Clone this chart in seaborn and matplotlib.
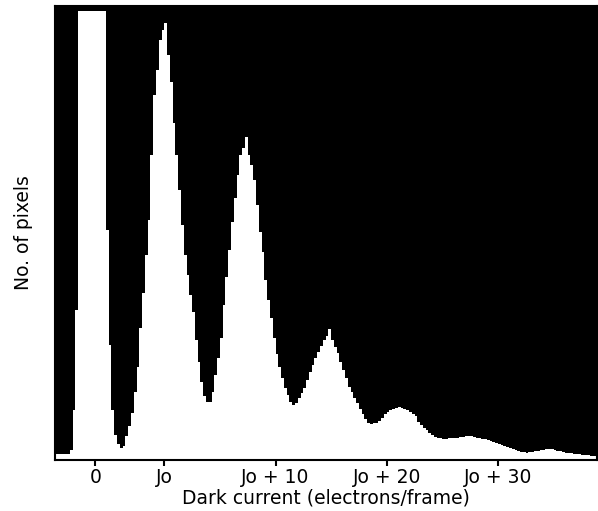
import numpy as np
import pandas as pd
import matplotlib
matplotlib.use("Agg")
import matplotlib.pyplot as plt
import seaborn as sns

# Histogram of per-pixel dark current; x in electrons/frame relative to Jo,
# bins 0.25 e-/frame wide starting at -10.
bin_start = -10.0
bin_width = 0.25

# pixel counts per bin (arbitrary units; the zero spike runs off scale)
counts_floor = [6, 6, 6, 6, 6, 6, 10, 50, 150]
counts_zero = [449, 449, 449, 449, 449, 449, 449, 449, 449, 449,
               230, 115, 50, 25, 16, 12, 14]
counts_jo = [24, 34, 47, 68, 93, 132, 167, 205, 240, 305, 365, 390, 420,
             430, 437, 405, 378, 337, 305, 270, 235, 205, 185, 165, 148,
             120, 98, 78, 64, 58]
counts_jo7 = [58, 68, 85, 102, 122, 155, 183, 210, 238, 262, 285, 305, 312,
              323, 305, 295, 280, 255, 228, 208, 180, 160, 142, 122, 106,
              93, 82, 72, 65, 58, 55]
counts_jo13 = [57, 62, 67, 72, 80, 88, 95, 102, 108, 114, 120, 124, 131,
               120, 113, 107, 98, 90, 82, 73, 68, 62, 57, 51, 46, 41, 37,
               36, 37, 37]
counts_jo20 = [39, 42, 46, 48, 50, 51, 52, 53, 52, 51, 50, 48, 46, 44, 38,
               35, 32, 30, 27, 25, 23]
counts_tail = [22, 22, 21, 21, 22, 22, 22, 22, 23, 23, 24, 24, 24, 23, 22,
               22, 21, 21, 20, 19, 18, 17, 16, 15, 14, 13, 12, 11, 10, 9,
               8, 8, 7, 8, 8, 9, 9, 10, 10, 11, 11, 11, 10, 9, 9, 8, 7, 7,
               7, 6, 6, 6, 5, 5, 5, 4, 4, 4]

tick_positions = [-6.2, 0, 10, 20, 30]
tick_labels = ["0", "Jo", "Jo + 10", "Jo + 20", "Jo + 30"]

counts = np.array(counts_floor + counts_zero + counts_jo + counts_jo7
                  + counts_jo13 + counts_jo20 + counts_tail, dtype=float)
n_bins = len(counts)
centers = bin_start + bin_width * (np.arange(n_bins) + 0.5)
df = pd.DataFrame({"current": centers, "pixels": counts})

sns.set_style("white")
plt.rcParams["font.family"] = ["DejaVu Sans"]
plt.rcParams["text.color"] = "black"
plt.rcParams["axes.labelcolor"] = "black"
plt.rcParams["xtick.color"] = "black"

fig = plt.figure(figsize=(5.98, 5.11), dpi=100)
ax = fig.add_axes([55 / 598, (511 - 460) / 511, (597 - 55) / 598, (460 - 6) / 511])
ax.set_facecolor("black")

sns.histplot(data=df, x="current", weights="pixels",
             binwidth=bin_width,
             binrange=(bin_start, bin_start + bin_width * n_bins),
             element="step", fill=True, color="white", alpha=1,
             linewidth=0, ax=ax)

ax.set_xlim(-9.83, 38.91)
ax.set_ylim(0, 454)
ax.set_yticks([])
ax.set_xticks(tick_positions)
ax.set_xticklabels(tick_labels, fontsize=13.5)
ax.tick_params(axis="x", direction="out", length=4, width=1.5,
               color="black", labelcolor="black", pad=1.5, bottom=True)
for s in ax.spines.values():
    s.set_color("black")
    s.set_linewidth(1.5)

ax.set_xlabel("Dark current (electrons/frame)", fontsize=13.5,
              labelpad=1, color="black")
ax.set_ylabel("No. of pixels", fontsize=13.5, labelpad=16, color="black")

fig.savefig("out.png", dpi=100, facecolor="white")
